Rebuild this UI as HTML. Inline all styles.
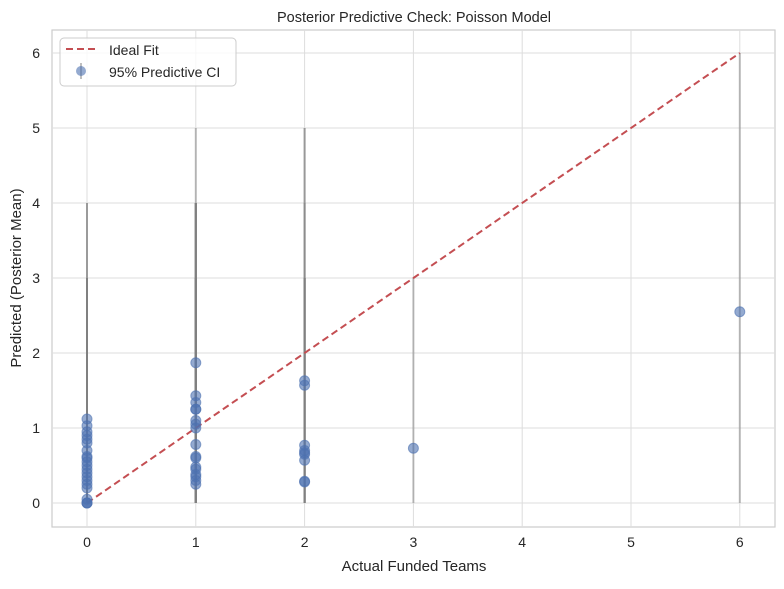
<!DOCTYPE html>
<html><head><meta charset="utf-8"><style>
body{margin:0;background:#fff;font-family:"Liberation Sans",sans-serif;}
svg text{font-family:"Liberation Sans",sans-serif;fill:#262626;}
</style></head><body>
<svg id="c" width="784" height="584"></svg>
<script>
const actual=[0,0,0,0,0,0,0,0,0,0,0,0,0,0,0,0,0,0,0,0,0,1,1,1,1,1,1,1,1,1,1,1,1,1,1,1,1,1,2,2,2,2,2,2,2,2,2,3,6];
const predicted=[0,0,0,0.05,0.2,0.25,0.3,0.35,0.4,0.45,0.5,0.55,0.6,0.62,0.7,0.8,0.85,0.9,0.95,1.03,1.12,1.87,1.43,1.34,1.25,1.25,1.1,1.05,1.0,0.78,0.62,0.6,0.48,0.45,0.38,0.35,0.3,0.25,1.63,1.57,0.77,0.7,0.67,0.65,0.57,0.29,0.28,0.73,2.55];
const lower=actual.map(()=>0);
const upper=[1,1,1,1,2,2,2,2,2,2,2,2,2,2,3,3,3,3,3,4,4,5,4,4,4,4,4,4,4,3,3,3,3,3,3,3,3,3,5,5,4,3,3,3,3,3,3,3,6];
const xTicks=[0,1,2,3,4,5,6];
const yTicks=[0,1,2,3,4,5,6];
const L=52,R=775,T=30,B=527;
const X=v=>87+v*108.8, Y=v=>503-v*75;
const svg=document.getElementById('c');
const NS='http://www.w3.org/2000/svg';
function mk(t,a,p){const e=document.createElementNS(NS,t);for(const k in a)e.setAttribute(k,a[k]);(p||svg).appendChild(e);return e;}
let r=mk('rect',{x:L,y:T,width:R-L,height:B-T,fill:'#fff',stroke:'#ccc','stroke-width':1.2});


xTicks.forEach(v=>{
 let g=mk('line',{x1:X(v),x2:X(v),y1:T,y2:B,stroke:'#ddd','stroke-width':1});
 
 
 let t=mk('text',{x:X(v),y:B+20,'text-anchor':'middle','font-size':14});t.textContent=v;
 
 
});
yTicks.forEach(v=>{
 let g=mk('line',{x1:L,x2:R,y1:Y(v),y2:Y(v),stroke:'#ddd','stroke-width':1});
 
 
 let t=mk('text',{x:L-12,y:Y(v)+5,'text-anchor':'end','font-size':14});t.textContent=v;
 
 
});
actual.forEach((a,i)=>{
 let e=mk('line',{x1:X(a),x2:X(a),y1:Y(lower[i]),y2:Y(upper[i]),stroke:'#808080','stroke-opacity':0.5,'stroke-width':2});
 
 
});
let d=mk('line',{x1:X(0),y1:Y(0),x2:X(6),y2:Y(6),stroke:'#c44e52','stroke-width':2,'stroke-dasharray':'7,4'});


actual.forEach((a,i)=>{
 let c=mk('circle',{cx:X(a),cy:Y(predicted[i]),r:5,fill:'#4c72b0','fill-opacity':0.6,stroke:'#4c72b0','stroke-opacity':0.6});
 
 
});
let ti=mk('text',{x:414,y:22,'text-anchor':'middle','font-size':14.5});ti.textContent='Posterior Predictive Check: Poisson Model';


let xl=mk('text',{x:414,y:571,'text-anchor':'middle','font-size':15});xl.textContent='Actual Funded Teams';


let yl=mk('text',{x:21,y:278,'text-anchor':'middle','font-size':15,transform:'rotate(-90 21 278)'});yl.textContent='Predicted (Posterior Mean)';


let lg=mk('g',{});


mk('rect',{x:60,y:38,width:176,height:48,rx:4,fill:'#fff','fill-opacity':0.8,stroke:'#ccc'},lg);
mk('line',{x1:66,x2:96,y1:49,y2:49,stroke:'#c44e52','stroke-width':2,'stroke-dasharray':'7,4'},lg);
let t1=mk('text',{x:109,y:55,'font-size':14},lg);t1.textContent='Ideal Fit';


mk('line',{x1:81,x2:81,y1:63,y2:79,stroke:'#808080','stroke-opacity':0.5,'stroke-width':2},lg);
mk('circle',{cx:81,cy:71,r:5,fill:'#4c72b0','fill-opacity':0.6},lg);
let t2=mk('text',{x:109,y:77,'font-size':14},lg);t2.textContent='95% Predictive CI';


</script>
</body></html>
